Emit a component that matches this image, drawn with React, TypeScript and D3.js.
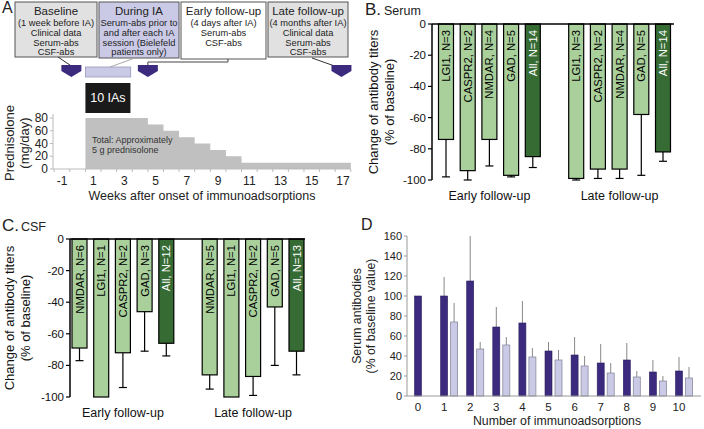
import React from "react";
import * as d3 from "d3";

const FONT = "Liberation Sans, Arial, Helvetica, sans-serif";

// ---------- Panel A data ----------
const timelineTitles = ["Baseline", "During IA", "Early follow-up", "Late follow-up"];
const timelineLines = [
  ["(1 week before IA)", "Clinical data", "Serum-abs", "CSF-abs"],
  ["Serum-abs prior to", "and after each IA", "session (Bielefeld", "patients only)"],
  ["(4 days after IA)", "Serum-abs", "CSF-abs"],
  ["(4 months after IA)", "Clinical data", "Serum-abs", "CSF-abs"],
];
const markerWeeks = [-0.4, 4.5, 16.9];
const predWeeks = [1, 2, 3, 4, 5, 6, 7, 8, 9, 10, 11, 12, 13, 14, 15, 16, 17];
const predDose = [80, 80, 80, 80, 70, 60, 50, 40, 30, 20, 10, 10, 10, 10, 10, 10, 10];
const weekTicks = [-1, 1, 3, 5, 7, 9, 11, 13, 15, 17];
const doseTicks = [0, 20, 40, 60, 80];

// ---------- Panel B data (serum) ----------
const serumEarlyLabels = ["LGI1, N=3", "CASPR2, N=2", "NMDAR, N=4", "GAD, N=5", "All, N=14"];
const serumEarlyVals = [-74, -94, -74, -97, -85];
const serumEarlyErr = [-98, -100, -91, -98, -92];
const serumLateLabels = ["LGI1, N=3", "CASPR2, N=2", "NMDAR, N=4", "GAD, N=5", "All, N=14"];
const serumLateVals = [-99, -93, -93, -58, -82];
const serumLateErr = [-100, -99, -99, -97, -88];

// ---------- Panel C data (CSF) ----------
const csfEarlyLabels = ["NMDAR, N=6", "LGI1, N=1", "CASPR2, N=2", "GAD, N=3", "All, N=12"];
const csfEarlyVals = [-69, -100, -72, -46, -66];
const csfEarlyErr = [-77, -100, -94, -71, -74];
const csfLateLabels = ["NMDAR, N=5", "LGI1, N=1", "CASPR2, N=2", "GAD, N=5", "All, N=13"];
const csfLateVals = [-86, -100, -87, -43, -71];
const csfLateErr = [-95, -100, -99, -80, -86];

const changeTicks = [0, -20, -40, -60, -80, -100];

// ---------- Panel D data ----------
const iaNumbers = [0, 1, 2, 3, 4, 5, 6, 7, 8, 9, 10];
const darkVals = [100, 100, 115, 69, 73, 45, 41, 33, 36, 24, 25];
const darkErr = [100, 119, 160, 89, 95, 54, 59, 52, 53, 36, 39];
const lightVals = [null, 74, 47, 51, 39, 36, 30, 23, 19, 15, 18];
const lightErr = [null, 93, 54, 59, 48, 46, 40, 33, 25, 20, 29];
const dTicks = [0, 20, 40, 60, 80, 100, 120, 140, 160];

const LIGHT_GREEN = "#a9d09b";
const DARK_GREEN = "#366b34";
const DARK_PURPLE = "#3b2a7d";
const LIGHT_PURPLE = "#cbcae6";

function PanelA() {
  const xW = d3.scaleLinear().domain([-1, 17]).range([62, 343]);
  const yP = d3.scaleLinear().domain([0, 80]).range([169, 118]);
  const areaData: [number, number][] = predWeeks.map((w, i) => [w - 0.5, predDose[i]]);
  areaData.push([predWeeks[predWeeks.length - 1] + 0.5, predDose[predDose.length - 1]]);
  const area = d3
    .area<[number, number]>()
    .x((d) => xW(d[0]))
    .y0(yP(0))
    .y1((d) => yP(d[1]))
    .curve(d3.curveStepAfter);

  const boxes = [
    { x: 15, w: 82, h: 55, fill: "#e1e1e1" },
    { x: 99, w: 80, h: 56, fill: LIGHT_PURPLE },
    { x: 181, w: 85, h: 57, fill: "#ffffff" },
    { x: 268, w: 80, h: 55, fill: "#e1e1e1" },
  ];
  const pent = (cx: number) =>
    `M${cx - 10},65 L${cx + 10},65 L${cx + 10},71 L${cx},77 L${cx - 10},71 Z`;
  const weekBoundaries = d3.range(-2, 18).map((w) => w + 0.5);

  return (
    <g fontFamily={FONT}>
      <text x={2} y={13} fontSize={16} fill="#222">A</text>
      {boxes.map((b, i) => (
        <g key={i}>
          <rect x={b.x} y={2} width={b.w} height={b.h} fill={b.fill} stroke="#555" strokeWidth={1} />
          <text x={b.x + b.w / 2} y={10.5} fontSize={11.5} textAnchor="middle" dominantBaseline="central" fill="#222">
            {timelineTitles[i]}
          </text>
          {timelineLines[i].map((t, j) => (
            <text key={j} x={b.x + b.w / 2} y={23 + j * 9.8} fontSize={9.3} textAnchor="middle" dominantBaseline="central" fill="#222">
              {t}
            </text>
          ))}
        </g>
      ))}
      {/* connectors */}
      <line x1={58} y1={57} x2={xW(markerWeeks[0])} y2={66} stroke="#333" strokeWidth={1} />
      <line x1={135} y1={58} x2={110} y2={67} stroke="#aaa" strokeWidth={1} />
      <polyline
        points={`228,59 228,62 ${xW(markerWeeks[1])},62 ${xW(markerWeeks[1])},66`}
        fill="none"
        stroke="#444"
        strokeWidth={1}
      />
      <line x1={312} y1={58} x2={xW(markerWeeks[2]) - 4} y2={67} stroke="#333" strokeWidth={1} />
      {markerWeeks.map((w, i) => (
        <path key={i} d={pent(xW(w))} fill={DARK_PURPLE} />
      ))}
      <rect x={xW(0.5)} y={67} width={xW(3.4) - xW(0.5)} height={10} fill={LIGHT_PURPLE} stroke="#9a98c0" strokeWidth={0.8} />
      <rect x={xW(0.5)} y={83} width={45} height={30} fill="#1a1a1a" />
      <text x={xW(0.5) + 22.5} y={98} fontSize={12.5} fill="#fff" textAnchor="middle" dominantBaseline="central">
        10 IAs
      </text>

      {/* prednisolone chart */}
      <path d={area(areaData) || ""} fill="#c0c0c0" />
      <line x1={53} x2={53} y1={114} y2={169} stroke="#bbb" />
      <line x1={53} x2={xW(17.5)} y1={169} y2={169} stroke="#bbb" />
      {doseTicks.map((t) => (
        <g key={t}>
          <line x1={50} x2={53} y1={yP(t)} y2={yP(t)} stroke="#bbb" />
          <text x={48} y={yP(t)} fontSize={12} textAnchor="end" dominantBaseline="central" fill="#222">
            {t}
          </text>
        </g>
      ))}
      {weekBoundaries.map((w) => (
        <line key={w} x1={xW(w)} x2={xW(w)} y1={169} y2={172} stroke="#bbb" />
      ))}
      {weekTicks.map((t) => (
        <text key={t} x={xW(t)} y={181} fontSize={12} textAnchor="middle" dominantBaseline="central" fill="#222">
          {t}
        </text>
      ))}
      <text x={92} y={143} fontSize={9} fill="#333">Total: Approximately</text>
      <text x={92} y={153} fontSize={9} fill="#333">5 g prednisolone</text>
      <text x={202} y={196} fontSize={12.5} textAnchor="middle" dominantBaseline="central" fill="#222">
        Weeks after onset of immunoadsorptions
      </text>
      <text transform={`translate(9,143) rotate(-90)`} fontSize={13} textAnchor="middle" dominantBaseline="central" fill="#222">
        Prednisolone
      </text>
      <text transform={`translate(24,143) rotate(-90)`} fontSize={13} textAnchor="middle" dominantBaseline="central" fill="#222">
        (mg/day)
      </text>
    </g>
  );
}

type BarCfg = {
  earlyLabels: string[];
  earlyVals: number[];
  earlyErr: number[];
  lateLabels: string[];
  lateVals: number[];
  lateErr: number[];
  y0: number;
  y1: number;
  xFirst: number;
  xLast: number;
  axisX: number;
  axisEnd: number;
  titleX1: number;
  titleX2: number;
};

function BarPanel(c: BarCfg) {
  const y = d3.scaleLinear().domain([0, -100]).range([c.y0, c.y1]);
  const x = d3.scalePoint<number>().domain(d3.range(11)).range([c.xFirst, c.xLast]);
  const bars = [
    ...c.earlyLabels.map((l, i) => ({ idx: i, label: l, v: c.earlyVals[i], e: c.earlyErr[i], all: i === 4 })),
    ...c.lateLabels.map((l, i) => ({ idx: i + 6, label: l, v: c.lateVals[i], e: c.lateErr[i], all: i === 4 })),
  ];
  const bw = 15;
  const midY = (c.y0 + c.y1) / 2;
  return (
    <g fontFamily={FONT}>
      {bars.map((b) => {
        const cx = x(b.idx) as number;
        return (
          <g key={b.idx}>
            {b.e < b.v && (
              <g>
                <line x1={cx} x2={cx} y1={y(b.v)} y2={y(b.e)} stroke="#000" strokeWidth={1.2} />
                <line x1={cx - 4} x2={cx + 4} y1={y(b.e)} y2={y(b.e)} stroke="#000" strokeWidth={1.2} />
              </g>
            )}
            <rect
              x={cx - bw / 2}
              y={y(0)}
              width={bw}
              height={y(b.v) - y(0)}
              fill={b.all ? DARK_GREEN : LIGHT_GREEN}
              stroke="#000"
              strokeWidth={1.2}
            />
            <text
              transform={`translate(${cx},${y(0) + 6}) rotate(-90)`}
              fontSize={11.3}
              textAnchor="end"
              dominantBaseline="central"
              fill={b.all ? "#fff" : "#000"}
            >
              {b.label}
            </text>
          </g>
        );
      })}
      <line x1={c.axisX} x2={c.axisEnd} y1={c.y0} y2={c.y0} stroke="#000" strokeWidth={1.5} />
      <line x1={c.axisX} x2={c.axisX} y1={c.y0} y2={c.y1} stroke="#000" strokeWidth={1.5} />
      {changeTicks.map((t) => (
        <g key={t}>
          <line x1={c.axisX - 4} x2={c.axisX} y1={y(t)} y2={y(t)} stroke="#000" strokeWidth={1.2} />
          <text x={c.axisX - 6} y={y(t)} fontSize={11.5} textAnchor="end" dominantBaseline="central" fill="#111">
            {t}
          </text>
        </g>
      ))}
      <text x={((x(0) as number) + (x(4) as number)) / 2} y={c.y1 + 16} fontSize={12.5} textAnchor="middle" dominantBaseline="central" fill="#111">
        Early follow-up
      </text>
      <text x={((x(6) as number) + (x(10) as number)) / 2} y={c.y1 + 16} fontSize={12.5} textAnchor="middle" dominantBaseline="central" fill="#111">
        Late follow-up
      </text>
      <text transform={`translate(${c.titleX1},${midY}) rotate(-90)`} fontSize={13} textAnchor="middle" dominantBaseline="central" fill="#111">
        Change of antibody titers
      </text>
      <text transform={`translate(${c.titleX2},${midY}) rotate(-90)`} fontSize={13} textAnchor="middle" dominantBaseline="central" fill="#111">
        (% of baseline)
      </text>
    </g>
  );
}

function PanelD() {
  const x = d3.scaleLinear().domain([0, 10]).range([418, 679]);
  const y = d3.scaleLinear().domain([0, 160]).range([396, 236]);
  const bw = 7;
  return (
    <g fontFamily={FONT}>
      <text x={361} y={230} fontSize={16} fill="#222">D</text>
      {iaNumbers.map((n, i) => {
        const cx = x(n);
        const lv = lightVals[i];
        const le = lightErr[i];
        return (
          <g key={n}>
            {darkErr[i] > darkVals[i] && (
              <line x1={cx} x2={cx} y1={y(darkVals[i])} y2={y(darkErr[i])} stroke="#888" strokeWidth={1} />
            )}
            <rect x={cx - bw / 2} y={y(darkVals[i])} width={bw} height={y(0) - y(darkVals[i])} fill={DARK_PURPLE} stroke="#2a1f5e" strokeWidth={0.6} />
            {lv != null && le != null && (
              <g>
                <line x1={cx + 10} x2={cx + 10} y1={y(lv)} y2={y(le)} stroke="#888" strokeWidth={1} />
                <rect x={cx + 10 - bw / 2} y={y(lv)} width={bw} height={y(0) - y(lv)} fill={LIGHT_PURPLE} stroke="#8a8aa0" strokeWidth={0.8} />
              </g>
            )}
            <text x={cx} y={407} fontSize={11.5} textAnchor="middle" dominantBaseline="central" fill="#222">
              {n}
            </text>
          </g>
        );
      })}
      <line x1={407} x2={407} y1={y(160)} y2={y(0)} stroke="#999" />
      <line x1={407} x2={701} y1={y(0)} y2={y(0)} stroke="#999" />
      {dTicks.map((t) => (
        <g key={t}>
          <line x1={404} x2={407} y1={y(t)} y2={y(t)} stroke="#999" />
          <text x={402} y={y(t)} fontSize={11} textAnchor="end" dominantBaseline="central" fill="#222">
            {t}
          </text>
        </g>
      ))}
      <text x={557} y={421} fontSize={12.3} textAnchor="middle" dominantBaseline="central" fill="#222">
        Number of immunoadsorptions
      </text>
      <text transform={`translate(357,316) rotate(-90)`} fontSize={12.3} textAnchor="middle" dominantBaseline="central" fill="#222">
        Serum antibodies
      </text>
      <text transform={`translate(371,316) rotate(-90)`} fontSize={12.3} textAnchor="middle" dominantBaseline="central" fill="#222">
        (% of baseline value)
      </text>
    </g>
  );
}

export default function App() {
  return (
    <svg
      width={704}
      height={429}
      style={{ position: "absolute", left: 0, top: 0, background: "#fff" }}
    >
      <rect width={704} height={429} fill="#fff" />
      <PanelA />
      <g fontFamily={FONT}>
        <text x={365} y={15} fontSize={17} fill="#222">B.</text>
        <text x={384} y={15} fontSize={12.5} fill="#222">Serum</text>
        <text x={2} y={231} fontSize={17} fill="#222">C.</text>
        <text x={21} y={231} fontSize={12.5} fill="#222">CSF</text>
      </g>
      <BarPanel
        earlyLabels={serumEarlyLabels}
        earlyVals={serumEarlyVals}
        earlyErr={serumEarlyErr}
        lateLabels={serumLateLabels}
        lateVals={serumLateVals}
        lateErr={serumLateErr}
        y0={24}
        y1={180}
        xFirst={446}
        xLast={663}
        axisX={432}
        axisEnd={674}
        titleX1={373}
        titleX2={389}
      />
      <BarPanel
        earlyLabels={csfEarlyLabels}
        earlyVals={csfEarlyVals}
        earlyErr={csfEarlyErr}
        lateLabels={csfLateLabels}
        lateVals={csfLateVals}
        lateErr={csfLateErr}
        y0={239}
        y1={397}
        xFirst={79.5}
        xLast={296.5}
        axisX={70}
        axisEnd={305}
        titleX1={9}
        titleX2={25}
      />
      <PanelD />
    </svg>
  );
}
